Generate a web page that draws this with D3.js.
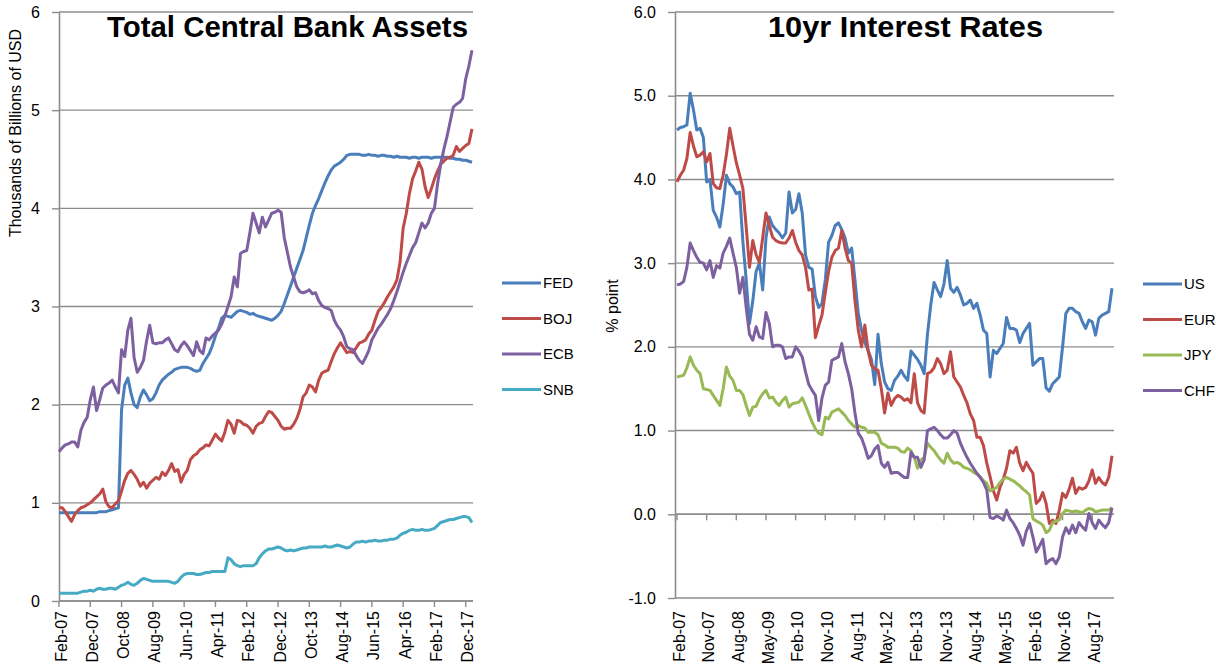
<html>
<head>
  <meta charset="utf-8">
  <script src="https://d3js.org/d3.v7.min.js"></script>
  <title>Central Bank Assets and 10yr Rates</title>
  <style>
    body { margin: 0; background: #ffffff; }
    text { font-family: "Liberation Sans", Arial, sans-serif; fill: #000; }
  </style>
</head>
<body>
  <svg id="chart" width="1216" height="671"></svg>
  <script>
    // monthly categories Feb-07 .. Feb-18
    var fmt = d3.timeFormat("%b-%y");
    var months = d3.timeMonth.range(new Date(2007, 1, 1), new Date(2018, 2, 1)).map(fmt);

    var leftTicks = ["Feb-07","Dec-07","Oct-08","Aug-09","Jun-10","Apr-11","Feb-12","Dec-12","Oct-13","Aug-14","Jun-15","Apr-16","Feb-17","Dec-17"];
    var rightTicks = ["Feb-07","Nov-07","Aug-08","May-09","Feb-10","Nov-10","Aug-11","May-12","Feb-13","Nov-13","Aug-14","May-15","Feb-16","Nov-16","Aug-17"];
    var leftY = [0, 1, 2, 3, 4, 5, 6];
    var rightY = [-1, 0, 1, 2, 3, 4, 5, 6];

    // thousands of billions USD
    var FED = [.90,.90,.90,.90,.90,.90,.90,.90,.90,.90,
      .90,.90,.90,.91,.91,.91,.92,.93,.94,.95,
      1.95,2.20,2.27,2.12,2.00,1.97,2.08,2.15,2.10,2.04,
      2.06,2.12,2.20,2.25,2.28,2.31,2.33,2.36,2.37,2.38,
      2.38,2.38,2.37,2.35,2.34,2.35,2.42,2.47,2.52,2.60,
      2.70,2.78,2.88,2.91,2.90,2.89,2.92,2.95,2.96,2.95,
      2.94,2.92,2.93,2.91,2.90,2.89,2.88,2.87,2.86,2.88,
      2.91,2.95,3.03,3.12,3.21,3.30,3.39,3.48,3.57,3.70,
      3.83,3.95,4.03,4.10,4.18,4.26,4.33,4.39,4.43,4.45,
      4.47,4.50,4.54,4.55,4.55,4.55,4.55,4.54,4.54,4.55,
      4.54,4.54,4.53,4.54,4.54,4.53,4.53,4.52,4.53,4.52,
      4.52,4.52,4.51,4.52,4.52,4.51,4.52,4.52,4.52,4.51,
      4.52,4.52,4.52,4.52,4.52,4.51,4.51,4.50,4.50,4.49,
      4.49,4.48,4.47];
    var BOJ = [.95,.95,.91,.86,.81,.88,.92,.95,.96,.98,
      1.00,1.03,1.06,1.09,1.14,1.01,.96,.95,.99,1.02,
      1.12,1.23,1.30,1.33,1.29,1.24,1.17,1.21,1.15,1.20,
      1.23,1.26,1.24,1.31,1.28,1.33,1.40,1.32,1.34,1.21,
      1.29,1.33,1.44,1.48,1.50,1.54,1.56,1.59,1.58,1.64,
      1.70,1.66,1.63,1.72,1.84,1.80,1.71,1.84,1.83,1.80,
      1.79,1.76,1.71,1.78,1.81,1.82,1.88,1.93,1.92,1.88,
      1.84,1.78,1.75,1.76,1.76,1.80,1.86,1.95,2.08,2.12,
      2.20,2.18,2.13,2.25,2.32,2.34,2.35,2.44,2.52,2.58,
      2.63,2.58,2.53,2.54,2.53,2.58,2.63,2.64,2.66,2.72,
      2.76,2.86,2.95,2.99,3.04,3.10,3.15,3.20,3.27,3.45,
      3.80,3.95,4.15,4.30,4.38,4.47,4.40,4.22,4.11,4.20,
      4.30,4.38,4.45,4.48,4.51,4.52,4.54,4.63,4.58,4.61,
      4.64,4.66,4.81];
    var ECB = [1.52,1.56,1.59,1.60,1.62,1.62,1.57,1.74,1.82,1.87,
      2.05,2.18,1.94,2.05,2.17,2.20,2.22,2.25,2.18,2.12,
      2.56,2.49,2.76,2.88,2.48,2.33,2.38,2.45,2.65,2.81,
      2.63,2.62,2.63,2.63,2.66,2.68,2.62,2.56,2.54,2.60,
      2.64,2.60,2.55,2.50,2.64,2.55,2.52,2.68,2.66,2.70,
      2.73,2.76,2.82,2.90,3.00,3.10,3.30,3.20,3.54,3.56,
      3.57,3.75,3.95,3.85,3.75,3.91,3.81,3.88,3.95,3.96,
      3.98,3.96,3.70,3.55,3.40,3.30,3.20,3.15,3.14,3.15,
      3.17,3.13,3.14,3.06,3.01,2.99,2.98,2.96,2.86,2.80,
      2.76,2.69,2.59,2.57,2.56,2.50,2.45,2.42,2.48,2.55,
      2.66,2.72,2.78,2.82,2.87,2.92,2.98,3.06,3.15,3.25,
      3.35,3.44,3.52,3.60,3.65,3.75,3.85,3.80,3.85,3.95,
      4.00,4.25,4.45,4.60,4.73,4.88,5.03,5.06,5.08,5.12,
      5.32,5.45,5.61];
    var SNB = [.08,.08,.08,.08,.08,.08,.08,.09,.10,.10,
      .11,.10,.12,.13,.12,.12,.13,.13,.12,.14,
      .16,.17,.19,.17,.16,.18,.21,.23,.22,.21,
      .20,.20,.20,.20,.20,.20,.19,.18,.20,.24,
      .27,.28,.28,.28,.27,.27,.28,.29,.29,.30,
      .30,.30,.30,.30,.44,.42,.38,.36,.35,.36,
      .36,.36,.36,.38,.44,.48,.51,.53,.53,.54,
      .55,.54,.52,.51,.52,.51,.52,.53,.54,.54,
      .55,.55,.55,.55,.55,.56,.55,.55,.56,.57,
      .56,.55,.54,.55,.58,.60,.60,.61,.60,.61,
      .61,.62,.61,.61,.62,.62,.63,.63,.64,.67,
      .69,.70,.72,.73,.72,.72,.73,.72,.72,.73,
      .74,.77,.80,.81,.82,.83,.83,.84,.85,.86,
      .86,.85,.80];

    // 10yr yields, % point
    var US = [4.59,4.62,4.63,4.65,5.03,4.83,4.59,4.61,4.50,3.97,
      4.00,3.63,3.55,3.43,3.70,4.05,3.95,3.91,3.83,3.85,
      3.25,2.80,2.28,2.55,2.90,3.00,2.68,3.30,3.55,3.45,
      3.40,3.36,3.30,3.36,3.85,3.60,3.64,3.83,3.60,3.10,
      2.95,2.93,2.60,2.47,2.52,2.80,3.25,3.33,3.45,3.48,
      3.40,3.30,3.12,3.18,2.80,2.40,2.20,2.05,1.96,1.85,
      1.55,2.15,1.80,1.58,1.50,1.48,1.60,1.65,1.72,1.65,
      1.60,1.95,1.90,1.85,1.78,1.68,2.15,2.50,2.77,2.68,
      2.60,2.75,3.03,2.70,2.65,2.71,2.62,2.50,2.52,2.56,
      2.46,2.52,2.38,2.20,2.16,1.64,1.96,1.92,1.98,2.04,
      2.35,2.22,2.22,2.20,2.05,2.16,2.22,2.28,1.78,1.82,
      1.86,1.86,1.51,1.47,1.56,1.60,1.64,2.00,2.40,2.46,
      2.46,2.42,2.40,2.30,2.22,2.32,2.30,2.14,2.34,2.38,
      2.40,2.42,2.70];
    var EUR = [3.97,4.05,4.11,4.25,4.56,4.40,4.27,4.29,4.33,4.21,
      4.31,3.95,3.90,3.89,4.05,4.30,4.61,4.40,4.20,4.05,
      3.89,3.43,2.95,3.27,3.10,3.01,3.30,3.60,3.45,3.31,
      3.27,3.25,3.24,3.24,3.30,3.39,3.25,3.15,3.10,2.95,
      2.68,2.69,2.11,2.25,2.38,2.65,2.90,3.07,3.15,3.18,
      3.39,3.18,3.03,3.00,2.55,2.20,2.00,2.26,1.95,1.78,
      1.74,1.72,1.50,1.21,1.45,1.30,1.38,1.42,1.40,1.36,
      1.38,1.33,1.68,1.33,1.24,1.21,1.68,1.70,1.75,1.86,
      1.80,1.68,1.72,1.94,1.64,1.58,1.52,1.42,1.33,1.20,
      1.12,0.92,0.92,0.82,0.61,0.45,0.28,0.17,0.32,0.42,
      0.55,0.76,0.73,0.80,0.61,0.52,0.62,0.55,0.49,0.13,
      0.17,0.26,0.13,-0.11,-0.07,-0.11,0.05,0.25,0.20,0.30,
      0.43,0.25,0.32,0.30,0.32,0.40,0.53,0.37,0.44,0.38,
      0.35,0.44,0.70];
    var JPY = [1.64,1.65,1.66,1.75,1.88,1.78,1.72,1.68,1.50,1.49,
      1.48,1.42,1.36,1.30,1.50,1.76,1.65,1.60,1.48,1.48,
      1.43,1.30,1.18,1.28,1.29,1.38,1.44,1.48,1.39,1.40,
      1.34,1.30,1.36,1.40,1.28,1.32,1.33,1.34,1.39,1.30,
      1.20,1.10,1.02,0.97,0.95,1.16,1.14,1.22,1.24,1.26,
      1.22,1.18,1.12,1.08,1.04,1.06,1.04,1.03,0.98,0.98,
      0.98,0.95,0.85,0.83,0.80,0.80,0.80,0.79,0.75,0.74,
      0.79,0.76,0.68,0.55,0.65,0.68,0.85,0.80,0.76,0.70,
      0.65,0.61,0.73,0.65,0.61,0.62,0.60,0.56,0.55,0.53,
      0.50,0.48,0.45,0.40,0.37,0.28,0.30,0.32,0.38,0.42,
      0.44,0.42,0.40,0.37,0.34,0.30,0.27,0.23,-0.05,-0.08,
      -0.10,-0.13,-0.22,-0.19,-0.10,-0.08,-0.07,0.01,0.05,0.04,
      0.03,0.04,0.03,0.02,0.05,0.07,0.06,0.03,0.04,0.05,
      0.05,0.05,0.08];
    var CHF = [2.74,2.75,2.78,2.95,3.24,3.15,3.07,3.01,3.00,2.92,
      3.03,2.83,2.97,2.94,3.12,3.20,3.30,3.12,2.95,2.64,
      2.83,2.47,2.15,2.08,2.24,2.12,2.10,2.41,2.28,2.00,
      2.02,2.02,2.00,1.86,1.88,1.88,2.00,1.95,1.88,1.70,
      1.55,1.48,1.42,1.12,1.39,1.54,1.58,1.84,1.86,1.88,
      2.04,1.82,1.68,1.50,1.21,0.97,0.91,0.80,0.67,0.70,
      0.78,0.82,0.61,0.56,0.62,0.49,0.50,0.50,0.47,0.44,
      0.44,0.74,0.68,0.68,0.56,0.65,1.00,1.02,1.04,1.00,
      0.95,0.91,0.91,0.95,1.00,0.97,0.85,0.76,0.68,0.61,
      0.55,0.49,0.44,0.38,0.29,-0.04,-0.05,-0.02,-0.04,-0.07,
      0.05,-0.05,-0.10,-0.17,-0.25,-0.37,-0.20,-0.11,-0.27,-0.45,
      -0.38,-0.30,-0.59,-0.55,-0.53,-0.59,-0.51,-0.27,-0.16,-0.23,
      -0.13,-0.22,-0.10,-0.15,-0.19,0.01,-0.10,-0.17,-0.07,-0.12,
      -0.16,-0.10,0.08];

    var gridColor = "#8c8c8c";
    var svg = d3.select("#chart");

    function panel(o) {
      var x = d3.scalePoint().domain(months).range(o.xRange);
      var y = d3.scaleLinear().domain(o.yDomain).range(o.yRange);
      var g = svg.append("g");

      // gridlines
      g.selectAll(".grid").data(o.yTicks).join("line")
        .attr("x1", o.axisX).attr("x2", o.right)
        .attr("y1", function(d){ return y(d); })
        .attr("y2", function(d){ return y(d); })
        .style("stroke", gridColor).style("stroke-width", 1.4);

      // y axis
      var ya = g.append("g")
        .attr("transform", "translate(" + o.axisX + ",0)")
        .call(d3.axisLeft(y).tickValues(o.yTicks).tickFormat(o.yFmt).tickSize(7).tickSizeOuter(0).tickPadding(o.yPad));
      ya.select(".domain").style("stroke", gridColor).style("stroke-width", 1.6);
      ya.selectAll(".tick line").style("stroke", gridColor).style("stroke-width", 1.4);
      ya.selectAll("text").style("font-size", "16px").style("fill", "#000");

      // x axis line at zero
      var y0 = y(0);
      g.append("line")
        .attr("x1", o.axisX).attr("x2", o.right)
        .attr("y1", y0).attr("y2", y0)
        .style("stroke", gridColor).style("stroke-width", 1.6);
      g.selectAll(".xt").data(o.xTicks).join("line")
        .attr("x1", function(d){ return x(d); }).attr("x2", function(d){ return x(d); })
        .attr("y1", y0).attr("y2", y0 + 6)
        .style("stroke", gridColor).style("stroke-width", 1.4);
      g.selectAll(".xl").data(o.xTicks).join("text")
        .attr("transform", function(d){ return "translate(" + (x(d) + 2) + "," + o.labelY + ") rotate(-90)"; })
        .attr("text-anchor", "end")
        .attr("dy", "0.35em")
        .style("font-size", "16px")
        .text(function(d){ return d; });

      // series
      var line = d3.line()
        .x(function(d, i){ return x(months[i]); })
        .y(function(d){ return y(d); });
      g.selectAll(".series").data(o.series).join("path")
        .attr("d", function(s){ return line(s.values); })
        .style("fill", "none")
        .style("stroke", function(s){ return s.color; })
        .style("stroke-width", 3)
        .style("stroke-linejoin", "round");

      // legend
      var lg = g.selectAll(".lg").data(o.series).join("g")
        .attr("transform", function(s, i){ return "translate(" + o.legendX + "," + (o.legendY + i * 35.5) + ")"; });
      lg.append("line").attr("x1", 0).attr("x2", 39)
        .style("stroke", function(s){ return s.color; }).style("stroke-width", 3);
      lg.append("text").attr("x", 41).attr("dy", "0.35em")
        .style("font-size", "15px")
        .text(function(s){ return s.name; });

      // title
      g.append("text")
        .attr("x", o.titleX).attr("y", 37)
        .attr("textLength", o.titleW).attr("lengthAdjust", "spacingAndGlyphs")
        .style("font-size", "29px").style("font-weight", "bold")
        .text(o.title);

      // y axis title
      g.append("text")
        .attr("transform", "translate(" + o.yTitleX + "," + o.yTitleY + ") rotate(-90)")
        .attr("text-anchor", "middle")
        .attr("dy", "0.35em")
        .style("font-size", "16px")
        .text(o.yTitle);
    }

    panel({
      xRange: [59, 472], axisX: 59, right: 473,
      yDomain: [0, 6], yRange: [601, 12], yTicks: leftY,
      yFmt: function(d){ return String(d); }, yPad: 12,
      xTicks: leftTicks, labelY: 611,
      series: [
        {name: "FED", values: FED, color: "#4a7ebb"},
        {name: "BOJ", values: BOJ, color: "#be4b48"},
        {name: "ECB", values: ECB, color: "#7d60a0"},
        {name: "SNB", values: SNB, color: "#46aac5"}
      ],
      legendX: 502, legendY: 283,
      title: "Total Central Bank Assets", titleX: 107, titleW: 361,
      yTitle: "Thousands of Billions of USD", yTitleX: 15, yTitleY: 133
    });

    panel({
      xRange: [677, 1112], axisX: 675, right: 1114,
      yDomain: [-1, 6], yRange: [598, 12], yTicks: rightY,
      yFmt: function(d){ return d.toFixed(1); }, yPad: 12,
      xTicks: rightTicks, labelY: 611,
      series: [
        {name: "US", values: US, color: "#4a7ebb"},
        {name: "EUR", values: EUR, color: "#be4b48"},
        {name: "JPY", values: JPY, color: "#98b954"},
        {name: "CHF", values: CHF, color: "#7d60a0"}
      ],
      legendX: 1143, legendY: 284,
      title: "10yr Interest Rates", titleX: 768, titleW: 275,
      yTitle: "% point", yTitleX: 612, yTitleY: 306
    });
  </script>
</body>
</html>
